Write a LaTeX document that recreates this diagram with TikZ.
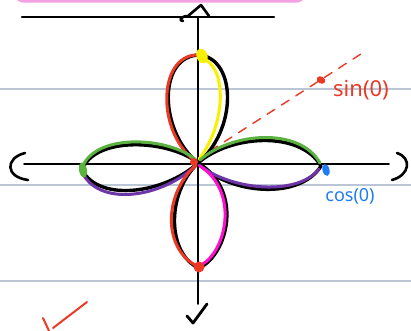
\documentclass[tikz,border=0pt]{standalone}
\usepackage{fontspec}
\setmainfont{Noto Sans}
\begin{document}
\begin{tikzpicture}[x=1pt,y=-1pt,line cap=round,line join=round,
  rule/.style={draw=rulecol,line width=1.6pt},
  axis/.style={draw=black,line width=1.8pt},
  ink/.style={line width=3.4pt},
  colink/.style={line width=3pt},
  lbl/.style={inner sep=0pt}]
\definecolor{rulecol}{HTML}{BAC6D6}
\definecolor{pinkbox}{HTML}{F3A0E4}
\definecolor{redink}{HTML}{EA3A26}
\definecolor{blueink}{HTML}{1E7BF2}
\definecolor{greenink}{HTML}{5BB240}
\definecolor{purpleink}{HTML}{6E35A8}
\definecolor{yellowink}{HTML}{F8F000}
\definecolor{magink}{HTML}{FF10D0}
\useasboundingbox (0,0) rectangle (411,330);
\clip (0,0) rectangle (411,330);
% pink box at top
\fill[pinkbox,rounded corners=8pt] (15,-20) rectangle (305,2.5);
% ruled lines
\draw[rule] (0,89) -- (411,89);
\draw[rule] (0,185) -- (411,185);
\draw[rule] (0,281) -- (411,281);
% top line
\draw[line width=2.2pt] (22,17) -- (274,17);
% axes
\draw[axis] (198,17) -- (198,304);
\draw[axis] (24,164) -- (389,164);
% arrows
\draw[line width=2.6pt] (183,21) .. controls (178,21) and (181,16) .. (188,16) -- (201,5) -- (209,16);
\draw[line width=2.8pt] (187,316) -- (193,323) -- (207,304);
% parentheses
\draw[line width=2.6pt] (25,153) .. controls (5,158) and (5,177) .. (28,180);
\draw[line width=2.6pt] (397,153) .. controls (412,158) and (410,175) .. (392,180);
% dashed ray
\draw[redink,line width=1.4pt,dash pattern=on 9pt off 8pt] (210,151) -- (364,52);
\fill[redink,rotate around={-30:(321,80)}] (321,80) ellipse (4.5 and 3.5);
% black petals
\draw[ink] (198,163) .. controls (158,130) and (158,55) .. (200,55)
  .. controls (237,60) and (237,130) .. (198,163);
\draw[ink] (198,163) .. controls (230,135) and (300,130) .. (321,166)
  .. controls (300,200) and (230,195) .. (198,163);
\draw[ink] (198,163) .. controls (165,195) and (168,255) .. (199,268)
  .. controls (228,255) and (244,190) .. (198,163);
\draw[ink] (198,163) .. controls (170,140) and (95,135) .. (82,170)
  .. controls (100,203) and (165,193) .. (198,163);
% colored overlays
\draw[redink,colink] (196,162) .. controls (156,132) and (158,57) .. (196,55);
\draw[yellowink,colink] (199,159) .. controls (226,125) and (228,65) .. (201,58);
\draw[greenink,colink] (200,160) .. controls (232,132) and (300,127) .. (320,163);
\draw[purpleink,colink] (319,169) .. controls (298,196) and (232,191) .. (199,165);
\draw[greenink,colink] (196,160) .. controls (170,137) and (95,132) .. (82,168);
\draw[purpleink,colink] (83,174) .. controls (102,208) and (165,196) .. (196,165);
\draw[redink,colink] (196,165) .. controls (162,196) and (164,250) .. (197,266);
\draw[magink,colink] (201,265) .. controls (226,252) and (240,192) .. (200,166);
\fill[redink] (194,162) circle (4);
% tip marks
\fill[yellowink,rotate around={20:(202,56)}] (202,56) ellipse (5.5 and 7.5);
\fill[greenink,rotate around={10:(83,170)}] (83,170) ellipse (4 and 7.5);
\fill[blueink,rotate around={15:(326,170)}] (326,170) ellipse (3.5 and 6);
\fill[redink] (199,267) circle (5.5);
% labels
\node[lbl,text=redink,font=\fontsize{22}{22}\selectfont] (sinlbl) at (361,90) {sin(0)};
\node[lbl,text=blueink,font=\fontsize{18}{18}\selectfont] (coslbl) at (350,196) {cos(0)};
% check mark
\draw[redink,line width=2pt] (43,318) -- (50,333) (53,328) -- (87,302);
\end{tikzpicture}
\end{document}
